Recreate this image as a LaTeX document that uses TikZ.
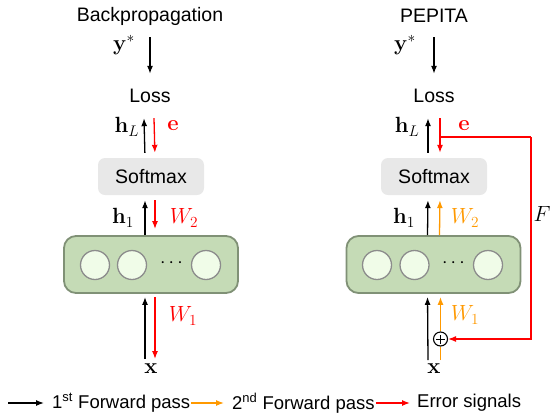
\RequirePackage{fix-cm}
\documentclass[tikz,border=0pt]{standalone}
\usepackage{amsmath}
\usepackage[no-math]{fontspec}
\setmainfont{Liberation Sans}
\usetikzlibrary{arrows.meta}
\definecolor{myorange}{RGB}{255,153,0}
\definecolor{myred}{RGB}{255,0,0}
\definecolor{layerfill}{RGB}{197,219,182}
\definecolor{layerdraw}{RGB}{128,145,118}
\definecolor{cellfill}{RGB}{240,252,232}
\definecolor{celldraw}{RGB}{140,140,140}
\definecolor{boxgray}{RGB}{232,232,232}
\begin{document}
\begin{tikzpicture}[x=1pt,y=-1pt,
  font=\fontsize{19.5}{23}\selectfont,
  lbl/.style={inner sep=0pt, anchor=center},
  mlbl/.style={inner sep=0pt, anchor=center, font=\fontsize{22}{26}\selectfont},
  arr/.style={-{Latex[length=8pt,width=6pt]}, line width=1.3pt},
  fwd/.style={arr, black},
  fwdtwo/.style={arr, myorange},
  err/.style={arr, myred},
  lossbox/.style={inner sep=0pt, minimum height=44pt, minimum width=50pt},
  softbox/.style={fill=boxgray, rounded corners=7pt, minimum width=106pt, minimum height=37pt, inner sep=0pt},
  layerbox/.style={fill=layerfill, draw=layerdraw, line width=1.8pt, rounded corners=12pt, minimum width=174pt, minimum height=57pt, inner sep=0pt},
  cell/.style={circle, fill=cellfill, draw=celldraw, line width=1.3pt, minimum size=29pt, inner sep=0pt},
  legtext/.style={font=\fontsize{18.5}{22}\selectfont, inner sep=0pt, anchor=west},
  plusnode/.style={circle, draw=black, line width=1.1pt, minimum size=14pt, inner sep=0pt,
    path picture={\draw[line width=0.9pt] ([xshift=-4.5pt]path picture bounding box.center) -- ([xshift=4.5pt]path picture bounding box.center);
                  \draw[line width=0.9pt] ([yshift=-4.5pt]path picture bounding box.center) -- ([yshift=4.5pt]path picture bounding box.center);}}
]
\useasboundingbox (0,0) rectangle (551,413);

% ---------------- Left: Backpropagation ----------------
\node[lbl] (titleL) at (150,16) {Backpropagation};
\node[mlbl] (ystarL) at (124,45) {$\mathbf{y}^*$};
\coordinate (ytopL) at (150,37);
\node[lossbox] (lossL) at (150,96) {Loss};
\node[softbox] (softL) at (151,176.5) {Softmax};
\node[layerbox] (layerL) at (151,264.5) {};
\node[cell] (c1L) at (95,265) {};
\node[cell] (c2L) at (132,265) {};
\node[cell] (c3L) at (206,265) {};
\node[lbl] (dotsL) at (173,263) {$\cdots$};
\node[mlbl] (hLL) at (127,127) {$\mathbf{h}_L$};
\node[mlbl, text=myred] (eL) at (173,126) {$\mathbf{e}$};
\node[mlbl] (h1L) at (123,218) {$\mathbf{h}_1$};
\node[mlbl, text=myred] (W2L) at (184,218) {$W_2$};
\node[mlbl, text=myred] (W1L) at (183,316) {$W_1$};
\node[mlbl] (xL) at (151,369) {$\mathbf{x}$};
\coordinate (inL) at (150,359);

\draw[fwd] (ytopL) -- (lossL.north);
\draw[fwd, shorten <=5pt] ([xshift=-6pt]softL.north) -- ([xshift=-6pt]lossL.south);
\draw[err, shorten >=5pt] ([xshift=4pt]lossL.south) -- ([xshift=4pt]softL.north);
\draw[fwd, shorten >=5pt] ([xshift=-6pt]layerL.north) -- ([xshift=-6pt]softL.south);
\draw[err, shorten <=5pt, shorten >=6pt] ([xshift=4pt]softL.south) -- ([xshift=4pt]layerL.north);
\draw[fwd, shorten >=3pt] ([xshift=-5pt]inL) -- ([xshift=-6pt]layerL.south);
\draw[err, shorten <=3pt] ([xshift=4pt]layerL.south) -- ([xshift=5pt]inL);

% ---------------- Right: PEPITA ----------------
\node[lbl] (titleR) at (434,16) {PEPITA};
\node[mlbl] (ystarR) at (405,45) {$\mathbf{y}^*$};
\coordinate (ytopR) at (434,37);
\node[lossbox] (lossR) at (434,96) {Loss};
\node[softbox] (softR) at (434,176.5) {Softmax};
\node[layerbox] (layerR) at (433.5,264.5) {};
\node[cell] (c1R) at (377,265) {};
\node[cell] (c2R) at (414.5,265) {};
\node[cell] (c3R) at (488,265) {};
\node[lbl] (dotsR) at (455,263) {$\cdots$};
\node[mlbl] (hLR) at (407,127) {$\mathbf{h}_L$};
\node[mlbl, text=myred] (eR) at (464,126) {$\mathbf{e}$};
\node[mlbl] (h1R) at (404,218) {$\mathbf{h}_1$};
\node[mlbl, text=myorange] (W2R) at (465,218) {$W_2$};
\node[mlbl, text=myorange] (W1R) at (465,315) {$W_1$};
\node[mlbl] (xR) at (434,369) {$\mathbf{x}$};
\node[mlbl] (FR) at (542,214) {$F$};
\node[plusnode] (plusR) at (440.5,339) {};
\coordinate (inR) at (434,360);
\coordinate (fbstart) at (440,137);
\coordinate (fbcorner) at (531,137);

\draw[fwd] (ytopR) -- (lossR.north);
\draw[fwd, shorten <=5pt] ([xshift=-6pt]softR.north) -- ([xshift=-6pt]lossR.south);
\draw[err, shorten >=5pt] ([xshift=6pt]lossR.south) -- ([xshift=6pt]softR.north);
\draw[myred, line width=1.3pt] (fbstart) -- (fbcorner);
\draw[err] (fbcorner) |- (plusR.east);
\draw[fwd, shorten >=5pt] ([xshift=-6pt]layerR.north) -- ([xshift=-6pt]softR.south);
\draw[fwdtwo, shorten >=5pt] ([xshift=6pt]layerR.north) -- ([xshift=6pt]softR.south);
\draw[fwd, shorten >=3pt] ([xshift=-6pt]inR) -- ([xshift=-6pt]layerR.south);
\draw[myorange, line width=1.3pt] ([xshift=6.5pt]inR) -- (plusR.south);
\draw[fwdtwo, shorten >=3pt] (plusR.north) -- ([xshift=7pt]layerR.south);

% ---------------- Legend ----------------
\coordinate (leg0) at (8,403);
\node[legtext] (leg1) at (52,403) {1\textsuperscript{st} Forward pass};
\node[legtext] (leg2) at (232,403) {2\textsuperscript{nd} Forward pass};
\node[legtext] (leg3) at (417,403) {Error signals};
\draw[fwd, shorten >=8pt] (leg0) -- (leg1.west);
\draw[fwdtwo, shorten <=1pt, shorten >=8pt] (leg1.east) -- (leg2.west);
\draw[err, shorten <=1pt, shorten >=7pt] (leg2.east) -- (leg3.west);
\end{tikzpicture}
\end{document}
